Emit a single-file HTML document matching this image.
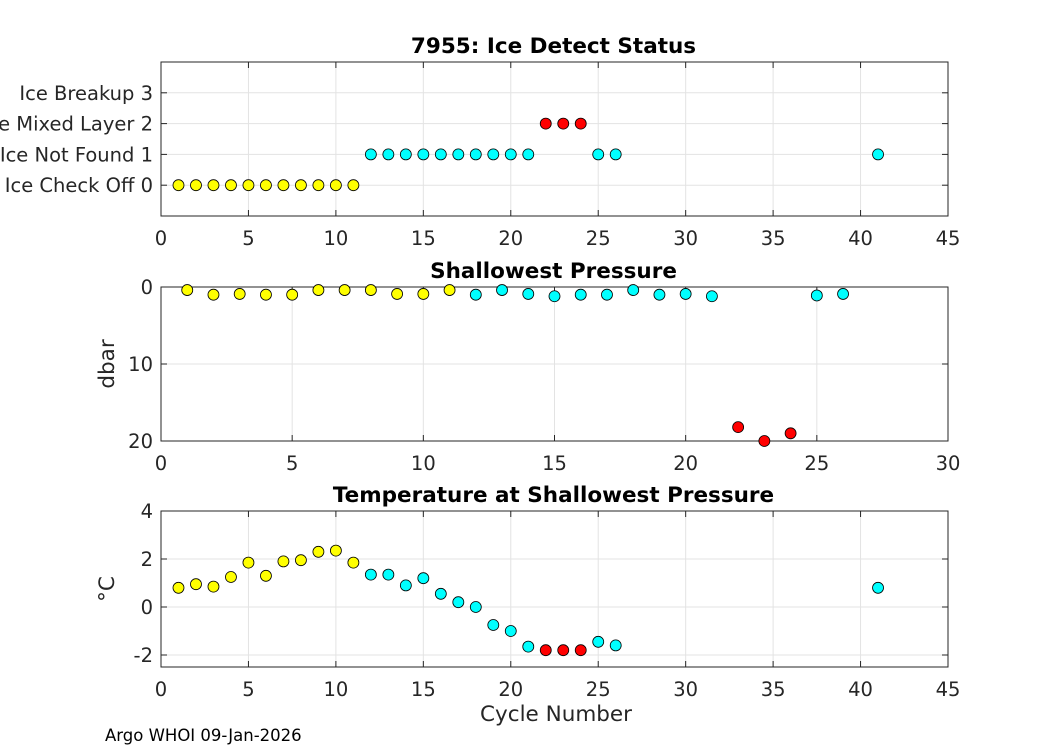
<!DOCTYPE html>
<html><head><meta charset="utf-8">
<style>
body{margin:0;background:#fff;}
svg{display:block;font-family:"DejaVu Sans","Liberation Sans",sans-serif;}
</style></head>
<body>
<svg id="c" width="1050" height="750"></svg>
<script>
const cycles=[1,2,3,4,5,6,7,8,9,10,11,12,13,14,15,16,17,18,19,20,21,22,23,24,25,26,41];
const status=[0,0,0,0,0,0,0,0,0,0,0,1,1,1,1,1,1,1,1,1,1,2,2,2,1,1,1];
const pressure=[0.4,1.0,0.9,1.0,1.0,0.4,0.4,0.4,0.9,0.9,0.4,1.0,0.4,0.9,1.2,1.0,1.0,0.4,1.0,0.9,1.2,18.2,20,19,1.1,0.9,null];
const temps=[0.8,0.95,0.85,1.25,1.85,1.3,1.9,1.95,2.3,2.35,1.85,1.35,1.35,0.9,1.2,0.55,0.2,0.0,-0.75,-1.0,-1.65,-1.8,-1.8,-1.8,-1.45,-1.6,0.8];
const statusTicks=[0,1,2,3];
const statusLabels=["Ice Check Off 0","Ice Not Found 1","Ice Mixed Layer 2","Ice Breakup 3"];
const colors=["#ffff00","#00ffff","#ff0000"];
const svg=document.getElementById('c');
const NS='http://www.w3.org/2000/svg';
function mk(t,a,p){const e=document.createElementNS(NS,t);for(const k in a)e.setAttribute(k,a[k]);(p||svg).appendChild(e);return e;}
function panel(name,top,bot,xmax,xstep,ymin,ymax,yticks,ylabels,rev,title,ylab,xs,ys){
  const L=161,R=948;
  const g=mk('g',{});
  
  
  const X=v=>L+(v/xmax)*(R-L);
  const Y=v=>rev?top+(v-ymin)/(ymax-ymin)*(bot-top):bot-(v-ymin)/(ymax-ymin)*(bot-top);
  mk('rect',{x:L,y:top,width:R-L,height:bot-top,fill:'#fff'},g);
  for(let v=0;v<=xmax;v+=xstep){
    mk('line',{x1:X(v),x2:X(v),y1:top,y2:bot,stroke:'#e3e3e3'},g);
    mk('line',{x1:X(v),x2:X(v),y1:bot,y2:bot-6,stroke:'#262626'},g);
    mk('line',{x1:X(v),x2:X(v),y1:top,y2:top+6,stroke:'#262626'},g);
    const t=mk('text',{x:X(v),y:bot+29,'text-anchor':'middle','font-size':19.5,fill:'#262626'},g);t.textContent=v;
  }
  yticks.forEach((v,i)=>{
    mk('line',{x1:L,x2:R,y1:Y(v),y2:Y(v),stroke:'#e3e3e3'},g);
    mk('line',{x1:L,x2:L+6,y1:Y(v),y2:Y(v),stroke:'#262626'},g);
    mk('line',{x1:R,x2:R-6,y1:Y(v),y2:Y(v),stroke:'#262626'},g);
    const t=mk('text',{x:L-8,y:Y(v)+7,'text-anchor':'end','font-size':19.5,fill:'#262626'},g);t.textContent=ylabels?ylabels[i]:v;
  });
  mk('rect',{x:L,y:top,width:R-L,height:bot-top,fill:'none',stroke:'#262626'},g);
  const tt=mk('text',{x:(L+R)/2-1,y:top-9,'text-anchor':'middle','font-size':21.5,'font-weight':'bold',fill:'#000'},g);tt.textContent=title;
  
  if(ylab){const yl=mk('text',{x:0,y:0,transform:`translate(${L-47},${(top+bot)/2}) rotate(-90)`,'text-anchor':'middle','font-size':21.5,fill:'#262626'},g);yl.textContent=ylab;
    }
  xs.forEach((x,i)=>{
    const v=ys[i];
    if(v===null||x>xmax)return;
    const c=mk('circle',{cx:X(x),cy:Y(v),r:5.5,fill:colors[status[i]],stroke:'#000','stroke-width':0.8},g);
    
    
  });
}
panel('ice-status-panel',62,216,45,5,-1,4,statusTicks,statusLabels,false,'7955: Ice Detect Status',null,cycles,status);
panel('pressure-panel',287,441,30,5,0,20,[0,10,20],null,true,'Shallowest Pressure','dbar',cycles,pressure);
panel('temperature-panel',511,667,45,5,-2.5,4,[-2,0,2,4],null,false,'Temperature at Shallowest Pressure','°C',cycles,temps);
const xl=mk('text',{x:556,y:721,'text-anchor':'middle','font-size':21.5,fill:'#262626'});xl.textContent='Cycle Number';

const ft=mk('text',{x:105,y:741,'font-size':16.5,fill:'#000'});ft.textContent='Argo WHOI 09-Jan-2026';

</script>
</body></html>
